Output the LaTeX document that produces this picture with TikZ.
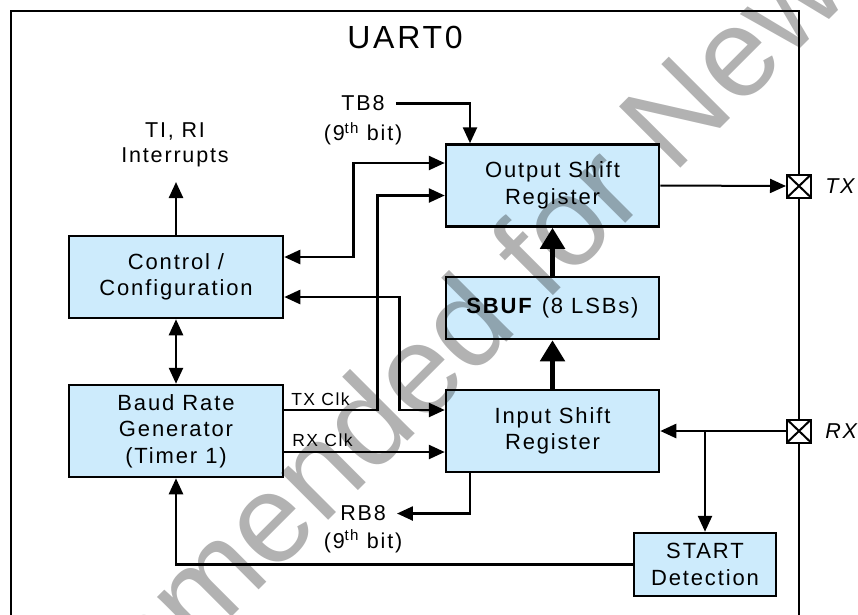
\documentclass[tikz,border=0pt]{standalone}
\usepackage{fontspec}
\setmainfont{Liberation Sans}[LetterSpace=8.5]
\newfontfamily\wmfont{Liberation Sans}
\usetikzlibrary{arrows.meta,positioning,calc}
\definecolor{uartblue}{RGB}{205,235,252}
\tikzset{
  regbox/.style={draw, line width=2.5pt, fill=uartblue, font=\fontsize{22}{26.5}\selectfont,
                 align=center, minimum width=213pt, minimum height=#1, inner sep=0pt},
  regbox/.default=82pt,
  iopad/.style={draw, line width=2pt, fill=white, minimum width=24pt, minimum height=23pt, inner sep=0pt,
                path picture={\draw[line width=2pt] (path picture bounding box.south west) -- (path picture bounding box.north east)
                              (path picture bounding box.north west) -- (path picture bounding box.south east);}},
  lbl/.style={font=\fontsize{21.5}{25}\selectfont, align=center, inner sep=1pt},
  clklbl/.style={font=\fontsize{17.5}{20}\selectfont, inner sep=1pt, anchor=south west},
  arr/.style={-{Triangle[length=16pt,width=14pt]}},
  dbl/.style={{Triangle[length=16pt,width=14pt]}-{Triangle[length=16pt,width=14pt]}},
  bigarr/.style={line width=5pt, -{Triangle[length=21pt,width=24pt]}},
  wmark/.style={font=\wmfont\fontsize{126}{140}\selectfont, text=black, text opacity=0.3, rotate=45},
}
\begin{document}
\begin{tikzpicture}[x=1pt, y=-1pt, line width=2.5pt]
\useasboundingbox (0,0) rectangle (858,614);
% UART0 frame, open at the bottom
\draw (11,630) -- (11,11) -- (799,11) -- (799,630);
\node[font=\fontsize{32}{36}\selectfont] (title) at (405,37) {UART0};
% blocks
\node[regbox, minimum width=214pt] (ctrl) at (176,277) {Control /\\Configuration};
\node[regbox=92pt, minimum width=214pt] (baud) at (176,431) {Baud Rate\\Generator\\(Timer 1)};
\node[regbox] (osr) at (552.5,185.5) {Output Shift\\Register};
\node[regbox=62pt] (sbuf) at (552.5,308) {\textbf{SBUF} (8 LSBs)};
\node[regbox] (isr) at (552.5,431) {Input Shift\\Register};
\node[regbox=63pt, minimum width=142pt] (start) at (705,564.5) {START\\Detection};
% labels
\node[lbl] (tiri) at (175,145) {TI, RI\\Interrupts};
\node[lbl] (tb8) at (363,103.5) {TB8};
\node[lbl] (tb8bit) at (363,134) {(9\textsuperscript{th} bit)};
\node[lbl] (rb8) at (363,513.5) {RB8};
\node[lbl] (rb8bit) at (363,541.5) {(9\textsuperscript{th} bit)};
\node[clklbl] (txclk) at (289,408) {TX Clk};
\node[clklbl] (rxclk) at (290,449) {RX Clk};
% connectors
\coordinate (tiritip) at (ctrl.north |- 0,182);
\draw[arr] (ctrl.north) -- (tiritip);
\draw[dbl] ([yshift=20pt]ctrl.east) -- ++(69,0) |- ([yshift=22.5pt]osr.west);
\draw[dbl] ([yshift=-20pt]ctrl.east) -- ++(115,0) |- ([yshift=21pt]isr.west);
\draw[arr] ([yshift=21pt]baud.east) -- ++(93,0) |- ([yshift=-10pt]osr.west);
\draw[arr] ([yshift=-21pt]baud.east) -- ([yshift=-21pt]isr.west);
\draw[dbl] (ctrl.south) -- (baud.north);
\draw[bigarr] (isr.north) -- (sbuf.south);
\draw[bigarr] (sbuf.north) -- (osr.south);
\draw[arr] ([xshift=9pt]tb8.east) -| ([xshift=-82.5pt]osr.north);
\draw[arr] ([xshift=-82.5pt]isr.south) |- ([xshift=9pt]rb8.east);
% pins
\node[iopad] (txpin) at (799,186) {};
\node[iopad] (rxpin) at (799,431) {};
\node[lbl, font=\fontsize{21.5}{25}\selectfont\itshape, anchor=west] (txlbl) at ([xshift=11pt]txpin.east) {TX};
\node[lbl, font=\fontsize{21.5}{25}\selectfont\itshape, anchor=west] (rxlbl) at ([xshift=11pt]rxpin.east) {RX};
\draw[arr, line width=2pt] (osr.east) -- (txpin.west);
\draw[arr] (rxpin.west) -- (isr.east);
\coordinate (rxsplit) at (start.north |- isr.east);
\draw[arr] (rxsplit) -- (start.north);
\draw[arr] (start.west) -| (baud.south);
% watermark
\node[wmark] (wm) at (453,350) {Not Recommended for New Designs};
\end{tikzpicture}
\end{document}
